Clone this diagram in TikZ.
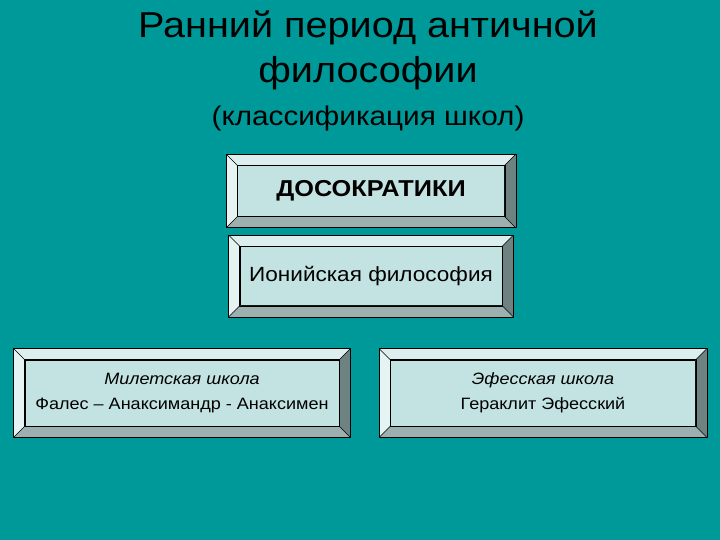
\documentclass[tikz,border=0pt]{standalone}
\usepackage{fontspec}
\setmainfont[FakeStretch=1.1]{Liberation Sans}
\usetikzlibrary{calc}

\definecolor{slidebg}{HTML}{009999}
\definecolor{boxface}{HTML}{C3E2E2}
\definecolor{bevtop}{HTML}{DDEEEE}
\definecolor{bevleft}{HTML}{E6F3F3}
\definecolor{bevright}{HTML}{6F8282}
\definecolor{bevbottom}{HTML}{9DB0B0}

\tikzset{
  facebox/.style={draw=black, line width=0.6pt, fill=boxface, inner sep=0pt, align=center},
  titletext/.style={font=\fontsize{36}{40}\selectfont, inner sep=0pt, anchor=base},
}

\begin{document}
\begin{tikzpicture}[x=1pt, y=-1pt, line join=round]
    \fill[slidebg] (0,0) rectangle (720,540);
    \useasboundingbox (0,0) rectangle (720,540);
    % title
    \node[titletext] (title1) at (368,38) {Ранний период античной};
    \node[titletext] (title2) at (368,83) {философии};
    \node[font=\fontsize{27}{30}\selectfont, inner sep=0pt, anchor=base] (subtitle) at (368,126) {(классификация школ)};
    % faces of the boxes
    \node[facebox, minimum width=267pt, minimum height=51pt, font=\fontsize{23}{26}\selectfont\bfseries] (presocr) at (371,191) {\raisebox{-3pt}{ДОСОКРАТИКИ}};
    \node[facebox, minimum width=262pt, minimum height=59pt, font=\fontsize{20.5}{24}\selectfont] (ionian) at (371,276) {Ионийская философия};
    \node[facebox, minimum width=314pt, minimum height=66pt, font=\fontsize{16.4}{25}\selectfont] (milet) at (182,393) {\textit{Милетская школа}\\Фалес – Анаксимандр - Анаксимен};
    \node[facebox, minimum width=305pt, minimum height=66pt, font=\fontsize{16.4}{25}\selectfont] (ephes) at (543,393) {\textit{Эфесская школа}\\Гераклит Эфесский};
    % bevels round each face
    \foreach \b in {presocr, ionian, milet, ephes} {
        \coordinate (nw) at ($(\b.north west)+(-11,-11)$);
        \coordinate (ne) at ($(\b.north east)+(11,-11)$);
        \coordinate (sw) at ($(\b.south west)+(-11,11)$);
        \coordinate (se) at ($(\b.south east)+(11,11)$);
        \fill[bevtop] (nw) -- (ne) -- (\b.north east) -- (\b.north west) -- cycle;
        \fill[bevleft] (nw) -- (\b.north west) -- (\b.south west) -- (sw) -- cycle;
        \fill[bevright] (ne) -- (se) -- (\b.south east) -- (\b.north east) -- cycle;
        \fill[bevbottom] (sw) -- (\b.south west) -- (\b.south east) -- (se) -- cycle;
        \draw[line width=0.6pt] (nw) rectangle (se);
        \draw[line width=0.6pt] (\b.north west) rectangle (\b.south east);
        \draw[line width=0.5pt] (nw) -- (\b.north west) (ne) -- (\b.north east)
            (sw) -- (\b.south west) (se) -- (\b.south east);
    }
\end{tikzpicture}
\end{document}
